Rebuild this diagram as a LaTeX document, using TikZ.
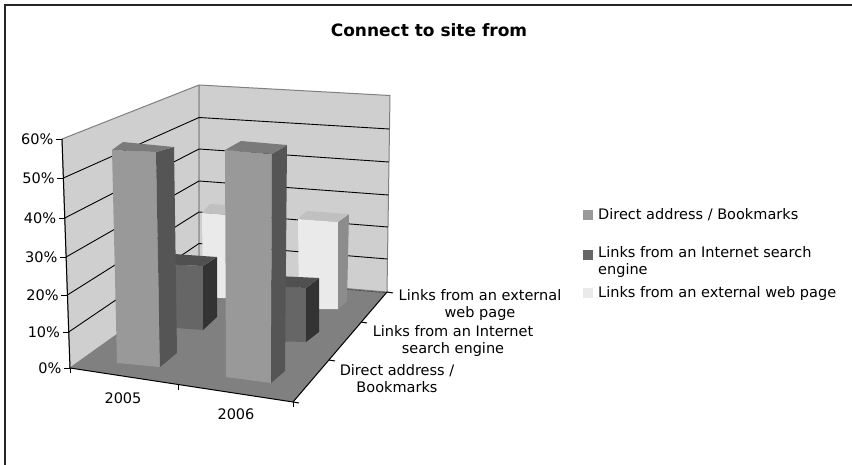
\documentclass[tikz,border=0pt]{standalone}
\usepackage{fontspec}
\setmainfont{DejaVu Sans}
\definecolor{wallc}{RGB}{207,207,207}
\definecolor{wallline}{RGB}{128,128,128}
\definecolor{floorc}{RGB}{128,128,128}
\definecolor{s1f}{RGB}{153,153,153}
\definecolor{s1t}{RGB}{122,122,122}
\definecolor{s1s}{RGB}{85,85,85}
\definecolor{s2f}{RGB}{102,102,102}
\definecolor{s2t}{RGB}{80,80,80}
\definecolor{s2s}{RGB}{51,51,51}
\definecolor{s3f}{RGB}{234,234,234}
\definecolor{s3t}{RGB}{192,192,192}
\definecolor{s3s}{RGB}{140,140,140}
\tikzset{
  lbl/.style={font=\fontsize{14.5}{17}\selectfont, inner sep=0pt},
  gridln/.style={black, line width=0.9pt},
  wallst/.style={fill=wallc, draw=wallline, line width=1pt, line join=round},
  axisln/.style={black, line width=1pt},
  legsq/.style={minimum width=10pt, minimum height=10pt, inner sep=0pt},
}
\begin{document}
\begin{tikzpicture}[x=1pt,y=-1pt]
\useasboundingbox (0,0) rectangle (852,464);
\fill[white] (0,0) rectangle (852,464);
% walls
\draw[wallst] (62,139) -- (199,85) -- (199,276) -- (70,368) -- cycle;
\draw[wallst] (199,85) -- (390,95.5) -- (387,292) -- (199,276) -- cycle;
% gridlines left wall
\draw[gridln] (63.4,178) -- (199,117.5) -- (389.5,129);
\draw[gridln] (64.8,218) -- (199,149) -- (389,162);
\draw[gridln] (66.1,257) -- (199,181) -- (388.5,195);
\draw[gridln] (67.4,295) -- (199,212) -- (388,227);
\draw[gridln] (68.7,332) -- (199,243.5) -- (387.5,259);
% floor
\fill[floorc] (70,368) -- (199,276) -- (387,292) -- (293,402) -- cycle;
\draw[black!70, line width=0.8pt, dash pattern=on 3pt off 1pt] (199,276.8) -- (387,292.8);
% back row: bar E (2005 external)
\fill[s3f] (202,213) -- (242,216) -- (242,299) -- (203,297) -- cycle;
\fill[s3s] (242,216) -- (250,207) -- (250,291) -- (242,299) -- cycle;
\fill[s3t] (202,213) -- (242,216) -- (250,207) -- (210,204) -- cycle;
% bar F (2006 external)
\fill[s3f] (298,219) -- (338,222) -- (338,309) -- (299,309) -- cycle;
\fill[s3s] (338,222) -- (349,214) -- (347,301.5) -- (338,309) -- cycle;
\fill[s3t] (298,219) -- (338,222) -- (349,214) -- (307,211) -- cycle;
% middle row: bar C (2005 search)
\fill[s2f] (161,264) -- (203,266) -- (203,330) -- (163,327) -- cycle;
\fill[s2s] (203,266) -- (217,257) -- (217,317) -- (203,330) -- cycle;
\fill[s2t] (161,264) -- (203,266) -- (217,257) -- (174,254) -- cycle;
% bar D (2006 search)
\fill[s2f] (264,286) -- (306,288) -- (306,342) -- (265,341) -- cycle;
\fill[s2s] (306,288) -- (319,278) -- (319,332) -- (306,342) -- cycle;
\fill[s2t] (264,286) -- (306,288) -- (319,278) -- (277,276) -- cycle;
% front row: bar A (2005 direct)
\fill[s1f] (112,150) -- (156,152) -- (160,367) -- (117,363) -- cycle;
\fill[s1s] (156,152) -- (174,147) -- (177,353) -- (160,367) -- cycle;
\fill[s1t] (112,150) -- (156,152) -- (174,147) -- (123,142) -- cycle;
% bar B (2006 direct)
\fill[s1f] (225,150) -- (272,154) -- (271,383) -- (226,377) -- cycle;
\fill[s1s] (272,154) -- (287,145) -- (285,371) -- (271,383) -- cycle;
\fill[s1t] (225,150) -- (272,154) -- (287,145) -- (241,141) -- cycle;
% axes
\draw[axisln] (62,139) -- (70,368) -- (293,402) -- (387,292);
% value ticks
\foreach \x/\y/\t/\n in {62/139/60/v6,63.4/178/50/v5,64.8/218/40/v4,66.1/257/30/v3,67.4/295/20/v2,68.7/332/10/v1,70/368/0/v0}{
  \draw[axisln] (\x-6,\y) -- (\x,\y);
  \node[lbl, anchor=east] (\n) at (\x-8.5,\y) {\t\%};
}
% category ticks
\draw[axisln] (70,368) -- (70,373);
\draw[axisln] (178,384.5) -- (178,390);
\draw[axisln] (293,402) -- (293,407);
\node[lbl] (c2005) at (123,398) {2005};
\node[lbl] (c2006) at (236,414) {2006};
% depth ticks
\draw[axisln] (293,402) -- (299,403);
\draw[axisln] (329,360) -- (335,361);
\draw[axisln] (361,322) -- (367,323);
\draw[axisln] (387,292) -- (393,293);
\node[lbl, align=center] (d3) at (480,305) {Links from an external\\web page};
\node[lbl, align=center] (d2) at (453,340.5) {Links from an Internet\\search engine};
\node[lbl, align=center] (d1) at (397,379) {Direct address /\\Bookmarks};
% legend
\node[legsq, fill=s1f] (k1) at (588,215) {};
\node[legsq, fill=s2f] (k2) at (588,254.5) {};
\node[legsq, fill=s3f] (k3) at (588,293) {};
\node[lbl, anchor=west] (t1) at (598,215) {Direct address / Bookmarks};
\node[lbl, anchor=north west, align=left] (t2) at (598,246) {Links from an Internet search\\engine};
\node[lbl, anchor=west] (t3) at (598,293) {Links from an external web page};
% title
\node[font=\fontsize{17}{20}\selectfont\bfseries, inner sep=0pt] (title) at (429,30) {Connect to site from};
% frame
\draw[black!85, line width=2pt] (5,470) -- (5,5) -- (860,5);
\end{tikzpicture}
\end{document}
